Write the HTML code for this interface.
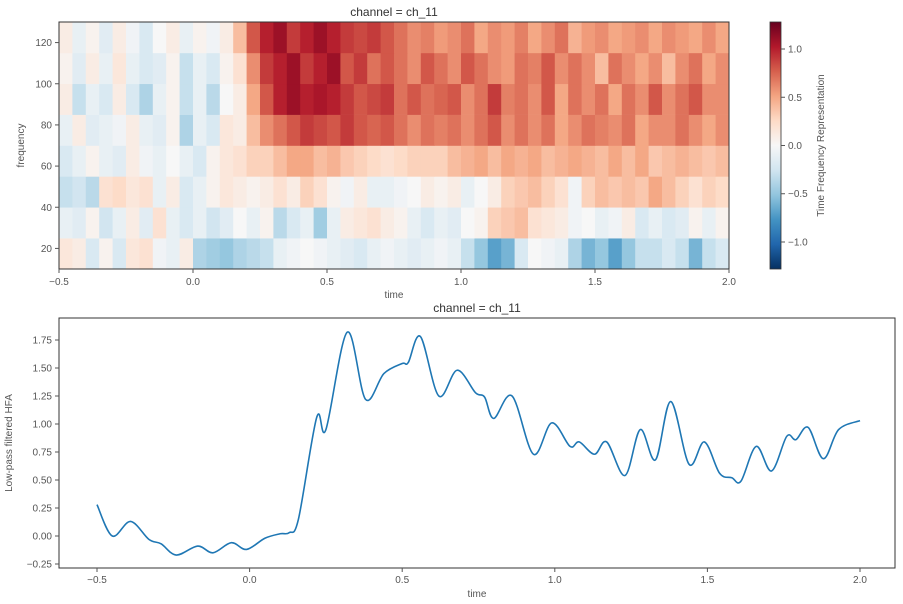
<!DOCTYPE html>
<html><head><meta charset="utf-8"><style>
body{margin:0;background:#fff;}
svg{display:block;font-family:"Liberation Sans","DejaVu Sans",sans-serif;}
</style></head><body>
<svg id="fig" width="903" height="604" xmlns="http://www.w3.org/2000/svg"></svg>
<script>
// ---------- heatmap data ----------
const hmTimes = [-0.5, 2.0]; // time range
const hmFreqEdges = [10,25,40,55,70,85,100,115,130];
const hmRow1 = [0.15,0.1,-0.2,0.05,-0.2,0.15,0.2,-0.05,-0.1,0.1,-0.4,-0.45,-0.5,-0.4,-0.35,-0.3,-0.1,-0.05,0,-0.05,-0.1,-0.15,-0.2,-0.1,-0.05,-0.1,-0.15,-0.1,-0.05,-0.1,-0.3,-0.5,-0.7,-0.6,-0.2,0,-0.05,-0.1,-0.4,-0.6,-0.5,-0.7,-0.5,-0.3,-0.3,-0.2,-0.3,-0.6,-0.3,-0.2];
const hmRow2 = [-0.1,-0.15,0.05,-0.25,-0.1,0.1,-0.15,0.2,-0.1,-0.2,-0.1,-0.25,-0.15,0,-0.1,0.05,-0.35,-0.2,-0.1,-0.45,-0.1,0.1,0.15,0.2,0.1,0.05,-0.1,-0.2,-0.1,-0.15,0,0.05,0.3,0.35,0.4,0.2,0.15,0.1,-0.05,0,-0.1,-0.05,0.1,-0.2,-0.1,-0.2,-0.15,0.05,-0.1,0.05];
const hmRow3 = [-0.3,-0.25,-0.35,0.2,0.25,0.15,0.2,-0.1,0.1,-0.2,-0.1,0.05,0.15,0.1,0.05,0.1,0.2,0.1,0.3,0.2,0.05,-0.05,0.1,-0.1,-0.1,-0.05,0,0.1,0.05,0.1,-0.1,0.0,0.1,0.3,0.35,0.4,0.3,0.2,-0.05,0.3,0.4,0.35,0.4,0.35,0.5,0.4,0.3,0.2,0.3,0.25];
const hmRow4 = [-0.2,-0.1,0.05,-0.1,-0.15,0.1,-0.05,-0.1,0,-0.1,-0.2,0.05,0.15,0.2,0.3,0.3,0.4,0.5,0.5,0.4,0.45,0.35,0.3,0.25,0.2,0.25,0.3,0.3,0.3,0.4,0.45,0.5,0.4,0.5,0.45,0.5,0.4,0.45,0.5,0.45,0.4,0.5,0.4,0.5,0.35,0.4,0.45,0.4,0.35,0.4];
const hmRow5 = [-0.1,0.1,-0.15,-0.1,-0.05,0.1,-0.1,-0.15,0.05,-0.4,-0.1,-0.2,0.15,0.1,0.4,0.6,0.7,0.8,0.9,0.85,0.8,0.9,0.8,0.75,0.8,0.7,0.6,0.7,0.65,0.7,0.6,0.7,0.8,0.6,0.7,0.6,0.7,0.5,0.6,0.7,0.65,0.6,0.7,0.5,0.6,0.6,0.7,0.6,0.5,0.6];
const hmRow6 = [0.1,-0.3,-0.1,-0.2,0.1,-0.2,-0.4,-0.1,0.05,-0.3,-0.1,-0.35,0,0.1,0.5,0.8,1.0,1.1,1.0,1.05,1.0,0.9,0.8,0.85,0.9,0.7,0.8,0.7,0.75,0.8,0.6,0.7,0.9,0.65,0.7,0.6,0.8,0.5,0.7,0.6,0.7,0.5,0.7,0.6,0.8,0.6,0.7,0.8,0.6,0.6];
const hmRow7 = [0.05,-0.15,0.1,-0.1,0.15,-0.1,-0.2,-0.15,0.05,-0.3,-0.1,-0.2,0.05,0.2,0.6,0.9,1.0,1.1,0.9,1.0,1.1,0.8,0.9,0.7,0.8,0.7,0.6,0.8,0.7,0.6,0.8,0.7,0.6,0.55,0.7,0.65,0.8,0.6,0.7,0.6,0.4,0.7,0.6,0.5,0.6,0.4,0.6,0.7,0.5,0.6];
const hmRow8 = [0.1,-0.1,0.05,-0.15,0.1,-0.05,-0.2,0,0.1,-0.1,0.05,-0.05,0.1,0.4,0.8,1.0,1.1,0.9,1.0,1.1,1.0,0.9,0.85,0.9,0.8,0.7,0.6,0.65,0.55,0.6,0.7,0.5,0.6,0.55,0.65,0.5,0.6,0.7,0.45,0.55,0.6,0.5,0.55,0.6,0.5,0.6,0.55,0.5,0.6,0.5];
const hmRows = [hmRow1,hmRow2,hmRow3,hmRow4,hmRow5,hmRow6,hmRow7,hmRow8];
const hmXTicks = [-0.5,0.0,0.5,1.0,1.5,2.0];
const hmYTicks = [20,40,60,80,100,120];
const cbTicks = [-1.0,-0.5,0.0,0.5,1.0];
const vmax = 1.28;
// ---------- line data ----------
const lineT = [-0.5,-0.45,-0.39,-0.33,-0.29,-0.24,-0.17,-0.12,-0.06,-0.01,0.05,0.1,0.13,0.16,0.22,0.25,0.32,0.38,0.44,0.5,0.52,0.56,0.62,0.68,0.74,0.77,0.8,0.86,0.93,0.99,1.05,1.08,1.13,1.17,1.23,1.28,1.33,1.38,1.44,1.49,1.54,1.58,1.61,1.66,1.71,1.76,1.79,1.83,1.88,1.93,2.0];
const lineV = [0.28,0.0,0.13,-0.03,-0.07,-0.17,-0.09,-0.15,-0.06,-0.12,-0.02,0.02,0.03,0.15,1.06,0.95,1.82,1.22,1.45,1.54,1.55,1.78,1.25,1.48,1.28,1.24,1.05,1.25,0.73,1.01,0.8,0.84,0.73,0.84,0.54,0.95,0.68,1.2,0.64,0.84,0.56,0.52,0.49,0.8,0.58,0.89,0.86,0.97,0.69,0.95,1.03];
const lnXTicks = [-0.5,0.0,0.5,1.0,1.5,2.0];
const lnYTicks = [-0.25,0.00,0.25,0.50,0.75,1.00,1.25,1.50,1.75];

const NS="http://www.w3.org/2000/svg";
const svg=document.getElementById('fig');
function mk(tag,attrs,parent){const e=document.createElementNS(NS,tag);for(const k in attrs)e.setAttribute(k,attrs[k]);(parent||svg).appendChild(e);return e;}
const cmap=['#053061','#2166ac','#4393c3','#92c5de','#d1e5f0','#f7f7f7','#fddbc7','#f4a582','#d6604d','#b2182b','#67001f'];
function hex(c){return [1,3,5].map(i=>parseInt(c.substr(i,2),16));}
function color(v){let t=(Math.max(-vmax,Math.min(vmax,v))/vmax+1)/2*10;let i=Math.min(9,Math.floor(t));let f=t-i;const a=hex(cmap[i]),b=hex(cmap[i+1]);return 'rgb('+a.map((x,k)=>Math.round(x+(b[k]-x)*f)).join(',')+')';}

// ---- top axes ----
const A={x0:59,x1:729,y0:22,y1:269};
const hx=t=>A.x0+(t-hmTimes[0])/(hmTimes[1]-hmTimes[0])*(A.x1-A.x0);
const hy=f=>A.y1-(f-10)/120*(A.y1-A.y0);
const gH=mk('g',{});


hmRows.forEach((row,r)=>{
  const n=row.length,dt=(hmTimes[1]-hmTimes[0])/n;
  row.forEach((v,c)=>{
    const xa=hx(hmTimes[0]+c*dt),xb=hx(hmTimes[0]+(c+1)*dt);
    const rc=mk('rect',{x:xa,y:hy(hmFreqEdges[r+1]),width:xb-xa+0.5,height:hy(hmFreqEdges[r])-hy(hmFreqEdges[r+1])+0.3,fill:color(v)},gH);
    
    
  });
});
mk('rect',{x:A.x0,y:A.y0,width:A.x1-A.x0,height:A.y1-A.y0,fill:'none',stroke:'#333','stroke-width':1});
hmXTicks.forEach(t=>{const x=hx(t);mk('line',{x1:x,x2:x,y1:A.y1,y2:A.y1+4,stroke:'#555'});const tx=mk('text',{x:x,y:A.y1+16,'text-anchor':'middle','font-size':10,fill:'#555'});tx.textContent=t.toFixed(1).replace('-','\u2212');});
hmYTicks.forEach(f=>{const y=hy(f);mk('line',{x1:A.x0-4,x2:A.x0,y1:y,y2:y,stroke:'#555'});const tx=mk('text',{x:A.x0-7,y:y+3.5,'text-anchor':'end','font-size':10,fill:'#555'});tx.textContent=f;});
let t1=mk('text',{x:(A.x0+A.x1)/2,y:16,'text-anchor':'middle','font-size':12,fill:'#333'});t1.textContent='channel = ch_11';
let t2=mk('text',{x:(A.x0+A.x1)/2,y:298,'text-anchor':'middle','font-size':10,fill:'#555'});t2.textContent='time';
let t3=mk('text',{x:0,y:0,'text-anchor':'middle','font-size':10,fill:'#555',transform:'translate(24,'+((A.y0+A.y1)/2)+') rotate(-90)'});t3.textContent='frequency';

// ---- colorbar ----
const C={x0:770,x1:781,y0:22,y1:269};
const defs=mk('defs',{});
const lg=mk('linearGradient',{id:'cb',x1:0,y1:1,x2:0,y2:0},defs);
cmap.forEach((c,i)=>mk('stop',{offset:(i/10),'stop-color':c},lg));
const cbr=mk('rect',{x:C.x0,y:C.y0,width:C.x1-C.x0,height:C.y1-C.y0,fill:'url(#cb)',stroke:'#333','stroke-width':0.8});

const cy=v=>C.y1-(v+vmax)/(2*vmax)*(C.y1-C.y0);
cbTicks.forEach(v=>{const y=cy(v);mk('line',{x1:C.x1,x2:C.x1+4,y1:y,y2:y,stroke:'#555'});const tx=mk('text',{x:C.x1+7,y:y+3.5,'font-size':10,fill:'#555'});tx.textContent=v.toFixed(1).replace('-','\u2212');});
let t4=mk('text',{x:0,y:0,'text-anchor':'middle','font-size':10,fill:'#555',transform:'translate(824,'+((C.y0+C.y1)/2)+') rotate(-90)'});t4.textContent='Time Frequency Representation';

// ---- bottom axes ----
const B={x0:59,x1:895,y0:318,y1:568};
const bx=t=>97+(t+0.5)*305.2;
const by=v=>536-v*112;
mk('rect',{x:B.x0,y:B.y0,width:B.x1-B.x0,height:B.y1-B.y0,fill:'none',stroke:'#333','stroke-width':1});
lnXTicks.forEach(t=>{const x=bx(t);mk('line',{x1:x,x2:x,y1:B.y1,y2:B.y1+4,stroke:'#555'});const tx=mk('text',{x:x,y:B.y1+15,'text-anchor':'middle','font-size':10,fill:'#555'});tx.textContent=t.toFixed(1).replace('-','\u2212');});
lnYTicks.forEach(v=>{const y=by(v);mk('line',{x1:B.x0-4,x2:B.x0,y1:y,y2:y,stroke:'#555'});const tx=mk('text',{x:B.x0-7,y:y+3.5,'text-anchor':'end','font-size':10,fill:'#555'});tx.textContent=v.toFixed(2).replace('-','\u2212');});
let t5=mk('text',{x:(B.x0+B.x1)/2,y:312,'text-anchor':'middle','font-size':12,fill:'#333'});t5.textContent='channel = ch_11';
let t6=mk('text',{x:(B.x0+B.x1)/2,y:597,'text-anchor':'middle','font-size':10,fill:'#555'});t6.textContent='time';
let t7=mk('text',{x:0,y:0,'text-anchor':'middle','font-size':10,fill:'#555',transform:'translate(12,'+((B.y0+B.y1)/2)+') rotate(-90)'});t7.textContent='Low-pass filtered HFA';
// smooth path (Catmull-Rom)
const P=lineT.map((t,i)=>[bx(t),by(lineV[i])]);
let d='M'+P[0][0]+','+P[0][1];
for(let i=0;i<P.length-1;i++){const p0=P[Math.max(0,i-1)],p1=P[i],p2=P[i+1],p3=P[Math.min(P.length-1,i+2)];
 d+=' C'+(p1[0]+(p2[0]-p0[0])/6)+','+(p1[1]+(p2[1]-p0[1])/6)+' '+(p2[0]-(p3[0]-p1[0])/6)+','+(p2[1]-(p3[1]-p1[1])/6)+' '+p2[0]+','+p2[1];}
const ln=mk('path',{d:d,fill:'none',stroke:'#1f77b4','stroke-width':1.6});


</script>
</body></html>
